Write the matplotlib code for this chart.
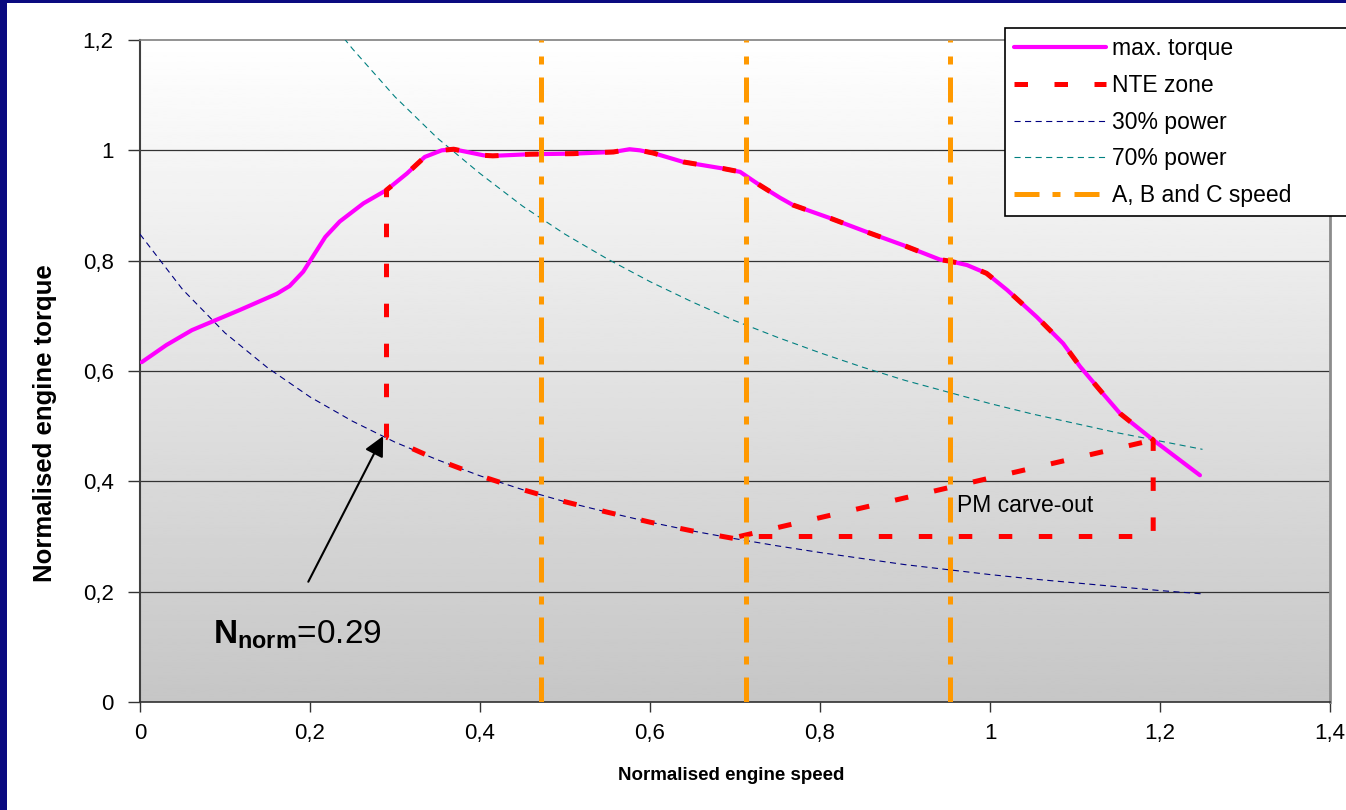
import numpy as np
import matplotlib
matplotlib.use("Agg")
import matplotlib.pyplot as plt
from matplotlib.patches import Rectangle
from matplotlib.ticker import FuncFormatter, MultipleLocator

plt.rcParams['font.family'] = ['Liberation Sans', 'DejaVu Sans']
plt.rcParams['mathtext.fontset'] = 'custom'
plt.rcParams['mathtext.rm'] = 'Liberation Sans'
plt.rcParams['mathtext.bf'] = 'Liberation Sans:bold'

# full load torque curve
torque_x = [0.002, 0.031, 0.061, 0.118, 0.161, 0.176, 0.192, 0.218, 0.235, 0.263,
            0.290, 0.314, 0.335, 0.355, 0.369, 0.404, 0.415, 0.459, 0.510, 0.557,
            0.576, 0.588, 0.604, 0.639, 0.686, 0.706, 0.729, 0.753, 0.768, 0.812,
            0.855, 0.898, 0.941, 0.953, 0.973, 0.996, 1.020, 1.055, 1.086, 1.106,
            1.129, 1.153, 1.192, 1.247]
torque_y = [0.616, 0.647, 0.674, 0.711, 0.740, 0.754, 0.780, 0.843, 0.871, 0.904,
            0.928, 0.958, 0.988, 1.000, 1.002, 0.991, 0.990, 0.993, 0.994, 0.997,
            1.002, 1.000, 0.995, 0.979, 0.967, 0.961, 0.937, 0.914, 0.901, 0.877,
            0.852, 0.828, 0.802, 0.799, 0.792, 0.777, 0.747, 0.698, 0.650, 0.608,
            0.566, 0.523, 0.475, 0.411]

# constant power lines
p30_x = [0.00, 0.05, 0.10, 0.15, 0.20, 0.25, 0.30, 0.35, 0.40, 0.45, 0.50, 0.55, 0.60,
         0.65, 0.70, 0.75, 0.80, 0.85, 0.90, 0.95, 1.00, 1.05, 1.10, 1.15, 1.20, 1.25]
p30_y = [0.848, 0.748, 0.669, 0.606, 0.553, 0.509, 0.471, 0.439, 0.410, 0.385, 0.363,
         0.344, 0.326, 0.310, 0.296, 0.283, 0.271, 0.260, 0.249, 0.240, 0.231, 0.223,
         0.216, 0.209, 0.202, 0.196]
p70_x = [0.24, 0.25, 0.30, 0.35, 0.40, 0.45, 0.50, 0.55, 0.60, 0.65, 0.70, 0.75, 0.80,
         0.85, 0.90, 0.95, 1.00, 1.05, 1.10, 1.15, 1.20, 1.25]
p70_y = [1.203, 1.184, 1.097, 1.022, 0.958, 0.899, 0.848, 0.803, 0.762, 0.725, 0.691,
         0.661, 0.633, 0.607, 0.583, 0.562, 0.541, 0.522, 0.505, 0.488, 0.473, 0.458]

# NTE zone outline, then the PM carve-out edge (nan separates the pieces)
nte_x = ([0.290, 0.290] + torque_x[11:43] + [1.192, 0.705, 0.70, 0.65, 0.60, 0.55, 0.50,
         0.45, 0.40, 0.35, 0.290] + [np.nan, 0.705, 1.192])
nte_y = ([0.480, 0.928] + torque_y[11:43] + [0.300, 0.300, 0.296, 0.310, 0.326, 0.344,
         0.363, 0.385, 0.410, 0.439, 0.480] + [np.nan, 0.300, 0.475])

# A, B and C speeds
abc_speed = [0.472, 0.713, 0.953]

n_norm = 0.29

fig = plt.figure(figsize=(13.46, 8.10), dpi=100)
fig.patch.set_facecolor('white')
ax = fig.add_axes([140 / 1346, 108 / 810, 1190 / 1346, 662 / 810])

# grey gradient plot area
grad = np.linspace(198, 255, 256).reshape(-1, 1) / 255.0
ax.imshow(grad, cmap='gray', vmin=0, vmax=1, origin='lower', extent=[0, 1.4, 0, 1.2],
          aspect='auto', zorder=0)

for yv in [0.2, 0.4, 0.6, 0.8, 1.0]:
    ax.axhline(yv, color='#333333', lw=0.9, zorder=1)

ax.plot(torque_x, torque_y, color='#FF00FF', lw=3.0, zorder=4, label='max. torque',
        solid_capstyle='round')
ax.plot(nte_x, nte_y, color='#FF0000', lw=3.6, ls=(0, (2.7, 5.3)), zorder=5,
        label='NTE zone')
ax.plot(p30_x, p30_y, color='#000080', lw=0.8, ls=(0, (5.5, 4)), zorder=3,
        label='30% power')
ax.plot(p70_x, p70_y, color='#008080', lw=0.8, ls=(0, (5.5, 4)), zorder=3,
        label='70% power')
for i, s in enumerate(abc_speed):
    ax.axvline(s, color='#FF9900', lw=3.6, ls=(0, (5, 2.6, 1.6, 2.8)), zorder=6,
               label='A, B and C speed' if i == 0 else None)

ax.annotate('', xy=(n_norm - 0.004, 0.482), xytext=(0.198, 0.218),
            arrowprops=dict(arrowstyle='-|>', color='black', lw=1.5,
                            mutation_scale=30, shrinkA=0, shrinkB=0), zorder=7)
ax.text(0.086, 0.107, r'$\mathbf{N}_{\mathbf{norm}}$=0.29', fontsize=24,
        ha='left', va='baseline', zorder=7)
ax.text(0.961, 0.357, 'PM carve-out', fontsize=16.5, ha='left', va='center', zorder=7)

ax.set_xlim(0, 1.4)
ax.set_ylim(0, 1.2)
ax.xaxis.set_major_locator(MultipleLocator(0.2))
ax.yaxis.set_major_locator(MultipleLocator(0.2))
comma = FuncFormatter(lambda v, p: ('%g' % round(v, 1)).replace('.', ','))
ax.xaxis.set_major_formatter(comma)
ax.yaxis.set_major_formatter(comma)
ax.tick_params(axis='y', labelsize=16, length=9, width=1, pad=10, color='#333333')
ax.tick_params(axis='x', labelsize=16, length=7, width=1, pad=8, color='#333333')

ax.spines['left'].set_color('#404040')
ax.spines['left'].set_linewidth(1.5)
ax.spines['bottom'].set_color('#303030')
ax.spines['bottom'].set_linewidth(1.2)
ax.spines['right'].set_color('#8C8C8C')
ax.spines['right'].set_linewidth(2)
ax.spines['top'].set_color('#808080')
ax.spines['top'].set_linewidth(1.2)

fig.text(45 / 1346, 1 - 423 / 810, 'Normalised engine torque', rotation=90,
         fontsize=18.5, fontweight='bold', ha='center', va='center')
fig.text(731 / 1346, 1 - 775 / 810, 'Normalised engine speed', fontsize=13.5,
         fontweight='bold', ha='center', va='center')

leg = ax.legend(loc='upper left', bbox_to_anchor=(1005 / 1346, 0, 360 / 1346, 1 - 28 / 810),
                bbox_transform=fig.transFigure, mode='expand', borderaxespad=0,
                fontsize=16.5, handlelength=4.0, handletextpad=0.25, labelspacing=0.6,
                borderpad=0.4, fancybox=False, framealpha=1, edgecolor='black')
leg.get_frame().set_linewidth(1.2)
leg.set_zorder(10)

# dark blue frame on the left and top edges
fig.patches.append(Rectangle((0, 0), 7 / 1346, 1, transform=fig.transFigure,
                             facecolor='#0A0A80', edgecolor='none'))
fig.patches.append(Rectangle((0, 1 - 3 / 810), 1, 3 / 810, transform=fig.transFigure,
                             facecolor='#0A0A80', edgecolor='none'))

fig.savefig('out.png', dpi=100)
